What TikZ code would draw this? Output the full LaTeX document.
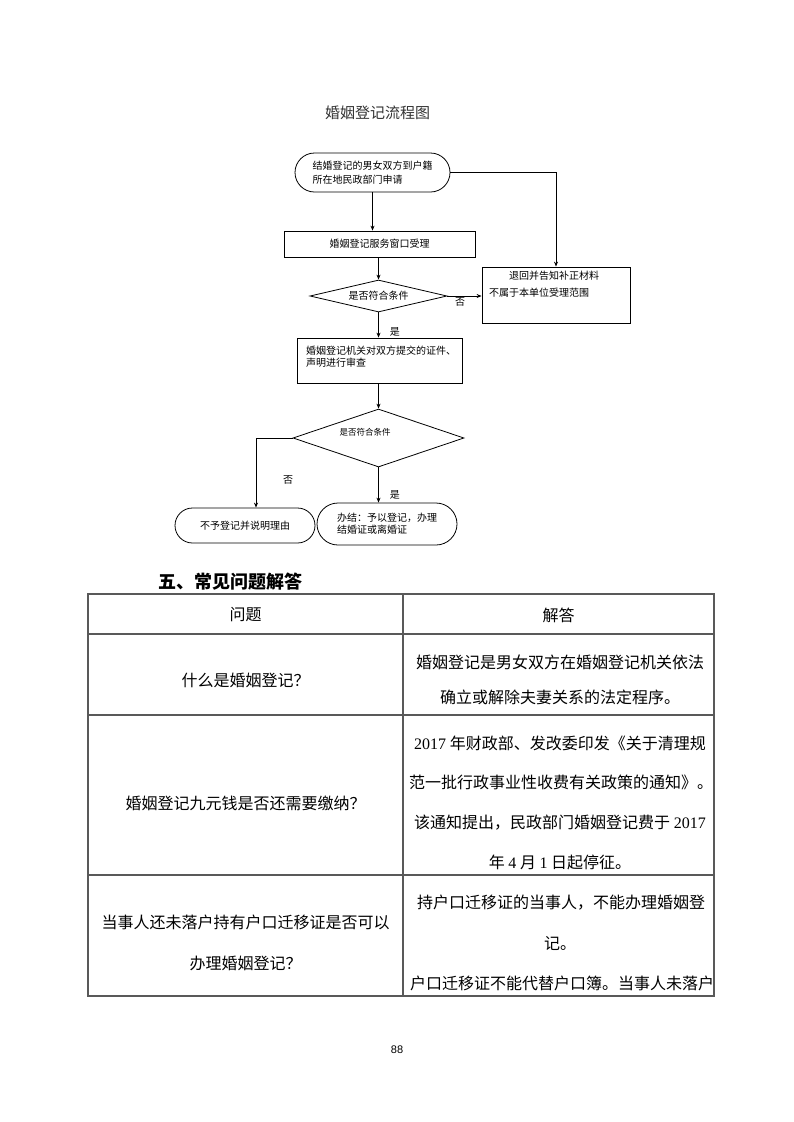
\documentclass[tikz,border=0pt]{standalone}
\usepackage{fontspec}
\newfontfamily\cjk{Noto Sans CJK SC}
\newfontfamily\latin{Liberation Serif}
\newfontfamily\pagefont{Liberation Sans}
\usetikzlibrary{shapes.geometric,arrows.meta}
\begin{document}
\begin{tikzpicture}[x=1pt,y=-1pt,
	flow/.style={draw=black,line width=0.8pt,-{Stealth[length=5pt,width=4pt]}},
	box/.style={draw=black,line width=0.8pt,inner sep=0pt},
	term/.style={box,rounded corners=#1},
	decide/.style={diamond,draw=black,line width=0.8pt,inner sep=0pt},
	chart/.style={font=\cjk\fontsize{10}{14}\selectfont,text=black,inner sep=0pt},
	cell/.style={font=\cjk\fontsize{16}{16}\selectfont,inner sep=0pt},
	tablerule/.style={draw=black!65,line width=1.1pt}]
		\useasboundingbox[fill=white] (0,0) rectangle (793,1122);
		\node[font=\cjk\fontsize{15}{15}\selectfont,text=black!80] (title) at (377.5,113) {婚姻登记流程图};
		\node[term=19.5pt,chart,align=left,minimum width=155pt,minimum height=39pt] (start) at (372.5,172.5) {结婚登记的男女双方到户籍\\所在地民政部门申请};
		\node[box,chart,minimum width=191pt,minimum height=26pt] (accept) at (379.5,244) {婚姻登记服务窗口受理};
		\node[decide,chart,aspect=4.28,minimum width=137pt,minimum height=32pt] (check1) at (378.5,296) {是否符合条件};
		\node[box,minimum width=148pt,minimum height=56pt] (refuse) at (556,295) {};
		\node[chart,font=\cjk\fontsize{10}{17}\selectfont,anchor=north west,align=left] (refusetext) at (489,271) {\hspace*{2em}退回并告知补正材料\\不属于本单位受理范围};
		\node[box,minimum width=165pt,minimum height=45pt] (review) at (379.5,360.5) {};
		\node[chart,font=\cjk\fontsize{10}{12}\selectfont,anchor=north west,align=left] (reviewtext) at (306,346) {婚姻登记机关对双方提交的证件、\\声明进行审查};
		\node[decide,aspect=2.95,minimum width=171pt,minimum height=58pt] (check2) at (378.5,438) {};
		\node[chart,font=\cjk\fontsize{8.5}{8.5}\selectfont] (check2text) at (365,432) {是否符合条件};
		\node[term=17.5pt,chart,minimum width=140pt,minimum height=35pt] (deny) at (245,525.5) {不予登记并说明理由};
		\node[term=21pt,chart,font=\cjk\fontsize{10}{12}\selectfont,align=left,minimum width=140pt,minimum height=42pt] (done) at (387,524) {办结：予以登记，办理\\结婚证或离婚证};
		\draw[flow] (start.south) -- (start.south |- accept.north);
		\draw[flow] (check1.north |- accept.south) -- (check1.north);
		\draw[flow] (start.east) -| (refuse.north);
		\draw[flow] (check1.east) -- (check1.east -| refuse.west)
			node[chart,pos=0.37,anchor=north,yshift=-1pt] (no1) {否};
		\draw[flow] (check1.south) -- (check1.south |- review.north)
			node[chart,pos=0.77,anchor=west,xshift=11pt] (yes1) {是};
		\draw[flow] (check2.north |- review.south) -- (check2.north);
		\draw[flow] (check2.west) -| ([xshift=11pt]deny.north);
		\node[chart] (no2) at (288,480) {否};
		\draw[flow] (check2.south) -- (check2.south |- done.north)
			node[chart,pos=0.78,anchor=west,xshift=11pt] (yes2) {是};
		\node[font=\cjk\bfseries\fontsize{18}{18}\selectfont,anchor=west,inner sep=0pt] (faq) at (158,582) {五、常见问题解答};
		\draw[tablerule] (88,594) rectangle (714,996);
		\draw[tablerule] (403,594) -- (403,996);
		\foreach \y in {634,715,875}
		{
			\draw[tablerule] (88,\y) -- (714,\y);
		}
		\node[cell] (head1) at (245.5,615) {问题};
		\node[cell] (head2) at (558.5,615) {解答};
		\node[cell] (q1) at (245.5,680) {什么是婚姻登记？};
		\node[cell] (a1a) at (560,662) {婚姻登记是男女双方在婚姻登记机关依法};
		\node[cell] (a1b) at (560,697) {确立或解除夫妻关系的法定程序。};
		\node[cell] (q2) at (245.5,803) {婚姻登记九元钱是否还需要缴纳？};
		\node[cell] (a2a) at (560,743) {{\latin 2017} 年财政部、发改委印发《关于清理规};
		\node[cell] (a2b) at (561,782) {范一批行政事业性收费有关政策的通知》。};
		\node[cell] (a2c) at (560,823) {该通知提出，民政部门婚姻登记费于 {\latin 2017}};
		\node[cell] (a2d) at (560,862) {年 {\latin 4} 月 {\latin 1} 日起停征。};
		\node[cell] (q3a) at (245.5,922) {当事人还未落户持有户口迁移证是否可以};
		\node[cell] (q3b) at (245.5,963) {办理婚姻登记？};
		\node[cell] (a3a) at (561,903) {持户口迁移证的当事人，不能办理婚姻登};
		\node[cell] (a3b) at (560,943) {记。};
		\node[cell] (a3c) at (562,983) {户口迁移证不能代替户口簿。当事人未落户};
		\node[font=\pagefont\fontsize{11}{11}\selectfont] (pagenum) at (397,1050) {88};
\end{tikzpicture}
\end{document}
